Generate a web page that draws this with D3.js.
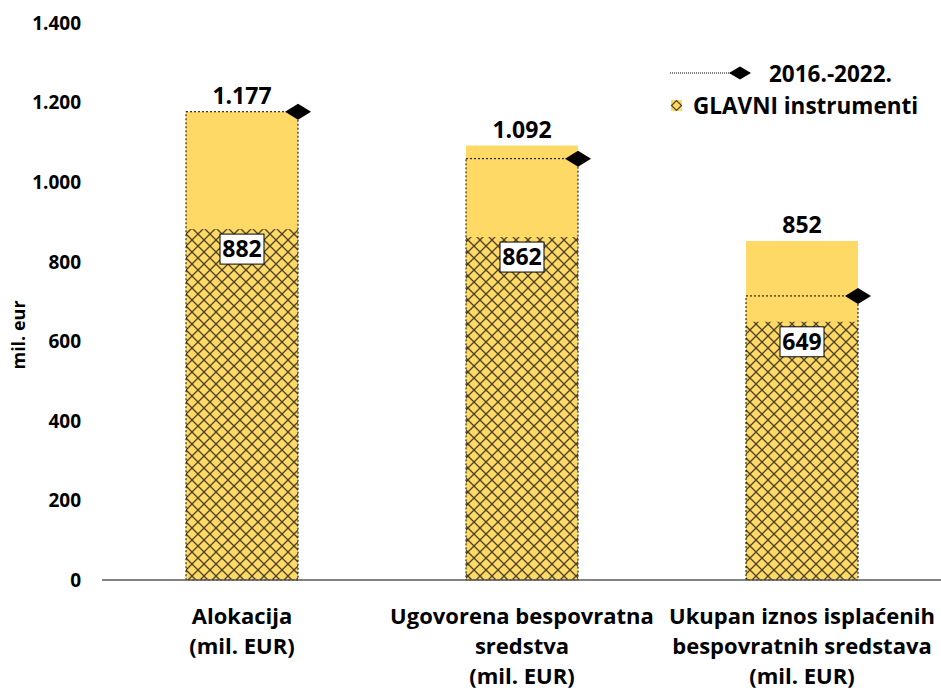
<!DOCTYPE html>
<head>
<meta charset="utf-8">
<style>
body { margin: 0; background: #fff; }
text { font-family: "Open Sans", Lato, sans-serif; font-weight: bold; fill: #000; }
.tick-label { font-size: 19px; }
.cat-label { font-size: 22px; }
.total-label { font-size: 23px; }
.inner-label { font-size: 23px; }
.legend text { font-size: 22.5px; }
</style>
</head>
<body>
<script src="https://cdn.jsdelivr.net/npm/d3@7"></script>
<script>
// chart values
var categories = [
  ["Alokacija", "(mil. EUR)"],
  ["Ugovorena bespovratna", "sredstva", "(mil. EUR)"],
  ["Ukupan iznos isplaćenih", "bespovratnih sredstava", "(mil. EUR)"]
];
var totals  = [1177, 1092, 852];   // yellow bars
var glavni  = [882, 862, 649];     // GLAVNI instrumenti (hatched)
var period  = [1177, 1059, 714];   // 2016.-2022. (dotted outline + diamond)
var yTicks  = [0, 200, 400, 600, 800, 1000, 1200, 1400];
var legendNames = ["2016.-2022.", "GLAVNI instrumenti"];

var W = 941, H = 693;
var plot = { left: 102, right: 942, top: 23, bottom: 580 };

var loc = d3.formatLocale({ decimal: ",", thousands: ".", grouping: [3], currency: ["", ""] });
var fmt = loc.format(",d");

var svg = d3.select("body").append("svg")
    .attr("width", W)
    .attr("height", H);

// hatch pattern
var defs = svg.append("defs");
var pat = defs.append("pattern")
    .attr("id", "hatch")
    .attr("patternUnits", "userSpaceOnUse")
    .attr("width", 12)
    .attr("height", 12);
pat.append("rect").attr("width", 12).attr("height", 12).attr("fill", "#FFD966");
pat.append("path")
    .attr("d", "M0,0L12,12M12,0L0,12")
    .attr("stroke", "#4a4020")
    .attr("stroke-width", 1.3)
    .attr("fill", "none");

var x = d3.scaleBand()
    .domain(d3.range(categories.length))
    .range([plot.left, plot.right])
    .paddingInner(0.6)
    .paddingOuter(0.3);

var y = d3.scaleLinear().domain([0, 1400]).range([plot.bottom, plot.top]);

// y tick labels
svg.append("g").selectAll("text")
    .data(yTicks)
  .enter().append("text")
    .attr("class", "tick-label")
    .attr("x", 81)
    .attr("y", function(d) { return y(d); })
    .attr("dy", "0.36em")
    .attr("text-anchor", "end")
    .text(function(d) { return fmt(d); });

// y axis title
svg.append("text")
    .attr("transform", "translate(25,335) rotate(-90)")
    .attr("text-anchor", "middle")
    .style("font-size", "18px")
    .text("mil. eur");

// yellow total bars
svg.append("g").selectAll("rect")
    .data(totals)
  .enter().append("rect")
    .attr("x", function(d, i) { return x(i); })
    .attr("y", function(d) { return y(d); })
    .attr("width", x.bandwidth())
    .attr("height", function(d) { return y(0) - y(d); })
    .attr("fill", "#FFD966");

// hatched GLAVNI bars
svg.append("g").selectAll("rect")
    .data(glavni)
  .enter().append("rect")
    .attr("x", function(d, i) { return x(i); })
    .attr("y", function(d) { return y(d); })
    .attr("width", x.bandwidth())
    .attr("height", function(d) { return y(0) - y(d); })
    .attr("fill", "url(#hatch)");

// dotted outline bars 2016.-2022.
svg.append("g").selectAll("rect")
    .data(period)
  .enter().append("rect")
    .attr("x", function(d, i) { return x(i); })
    .attr("y", function(d) { return y(d); })
    .attr("width", x.bandwidth())
    .attr("height", function(d) { return y(0) - y(d); })
    .attr("fill", "none")
    .attr("stroke", "#000")
    .attr("stroke-width", 1)
    .attr("stroke-dasharray", "2,2");

// x axis line
svg.append("line")
    .attr("x1", plot.left).attr("x2", W)
    .attr("y1", y(0)).attr("y2", y(0))
    .attr("stroke", "#595959")
    .attr("stroke-width", 1.5);

// diamonds
function diamond(w, h) {
  return "M" + (-w / 2) + ",0L0," + (-h / 2) + "L" + (w / 2) + ",0L0," + (h / 2) + "Z";
}
svg.append("g").selectAll("path")
    .data(period)
  .enter().append("path")
    .attr("d", diamond(26, 16))
    .attr("transform", function(d, i) {
      return "translate(" + (x(i) + x.bandwidth()) + "," + y(d) + ")";
    })
    .attr("fill", "#000");

// total labels
svg.append("g").selectAll("text")
    .data(totals)
  .enter().append("text")
    .attr("class", "total-label")
    .attr("x", function(d, i) { return x(i) + x.bandwidth() / 2; })
    .attr("y", function(d) { return y(d) - 8; })
    .attr("text-anchor", "middle")
    .text(function(d) { return fmt(d); });

// inner boxed labels
var inner = svg.append("g").selectAll("g")
    .data(glavni)
  .enter().append("g")
    .attr("transform", function(d, i) {
      return "translate(" + (x(i) + x.bandwidth() / 2) + "," + (y(d) + 5) + ")";
    });
inner.append("rect")
    .attr("x", -22).attr("y", 0)
    .attr("width", 44).attr("height", 30)
    .attr("fill", "#fff")
    .attr("stroke", "#000")
    .attr("stroke-width", 1);
inner.append("text")
    .attr("class", "inner-label")
    .attr("y", 23)
    .attr("text-anchor", "middle")
    .text(function(d) { return fmt(d); });

// category labels
var cats = svg.append("g").selectAll("text")
    .data(categories)
  .enter().append("text")
    .attr("class", "cat-label")
    .attr("text-anchor", "middle")
    .attr("x", function(d, i) { return x(i) + x.bandwidth() / 2; })
    .attr("y", 624);
cats.selectAll("tspan")
    .data(function(d) { return d; })
  .enter().append("tspan")
    .attr("x", function() { return d3.select(this.parentNode).attr("x"); })
    .attr("dy", function(d, j) { return j === 0 ? 0 : 30; })
    .text(function(d) { return d; });

// legend
var legend = svg.append("g").attr("class", "legend");
legend.append("line")
    .attr("x1", 670).attr("x2", 735)
    .attr("y1", 73).attr("y2", 73)
    .attr("stroke", "#000")
    .attr("stroke-width", 1)
    .attr("stroke-dasharray", "1,1");
legend.append("path")
    .attr("d", diamond(22, 13))
    .attr("transform", "translate(740,73)")
    .attr("fill", "#000");
legend.append("text")
    .attr("x", 769).attr("y", 82)
    .text(legendNames[0]);
legend.append("rect")
    .attr("x", 671).attr("y", 100)
    .attr("width", 11).attr("height", 11)
    .attr("fill", "#FFD966");
legend.append("path")
    .attr("d", diamond(10, 10))
    .attr("transform", "translate(676.5,105.5)")
    .attr("fill", "none")
    .attr("stroke", "#4a4020")
    .attr("stroke-width", 1.2);
legend.append("text")
    .attr("x", 693).attr("y", 114)
    .text(legendNames[1]);
</script>
</body>
